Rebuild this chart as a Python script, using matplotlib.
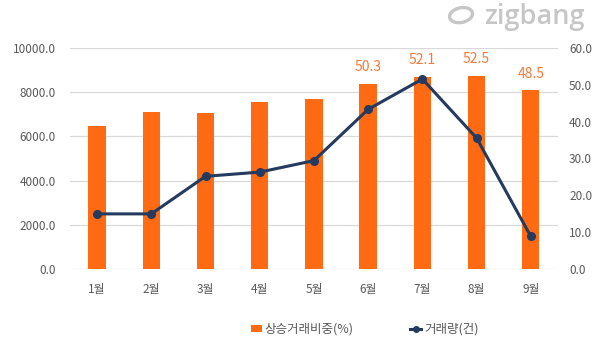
import matplotlib
matplotlib.use("Agg")
import matplotlib.pyplot as plt
from matplotlib.lines import Line2D
from matplotlib.patches import Patch, Ellipse

plt.rcParams["font.family"] = ["Noto Sans CJK KR", "DejaVu Sans"]

months = ["1월", "2월", "3월", "4월", "5월", "6월", "7월", "8월", "9월"]
rise_share = [38.7, 42.7, 42.2, 45.2, 46.0, 50.3, 52.1, 52.5, 48.5]   # 상승거래비중(%)
volume = [2490, 2490, 4190, 4380, 4900, 7220, 8590, 5920, 1470]      # 거래량(건)
labelled = [False, False, False, False, False, True, True, True, True]

left_ticks = [0, 2000, 4000, 6000, 8000, 10000]
right_ticks = [0, 10, 20, 30, 40, 50, 60]

ORANGE = "#ff6a13"
LABEL_ORANGE = "#f47a3c"
NAVY = "#243a5e"
TICK = "#595959"
GRID = "#d9d9d9"
LOGO = "#c6c6c6"

fig = plt.figure(figsize=(5.98, 3.52), dpi=100)
ax = fig.add_axes([0.117, 0.236, 0.816, 0.628])
x = list(range(len(months)))

# host axis: left ticks + grid
ax.set_ylim(0, 10000)
ax.set_yticks(left_ticks)
ax.set_yticklabels([f"{v:.1f}" for v in left_ticks])
ax.grid(axis="y", color=GRID, linewidth=0.9)
ax.set_axisbelow(True)
ax.set_xlim(-0.5, len(months) - 0.5)
ax.set_xticks(x)
ax.set_xticklabels(months)

# bars on right axis
ax_bar = ax.twinx()
bars = ax_bar.bar(x, rise_share, width=0.32, color=ORANGE, zorder=2)
ax_bar.set_ylim(0, 60)
ax_bar.set_yticks(right_ticks)
ax_bar.set_yticklabels([f"{v:.1f}" for v in right_ticks])
labels = [f"{v:.1f}" if show else "" for v, show in zip(rise_share, labelled)]
ax_bar.bar_label(bars, labels=labels, padding=7, color=LABEL_ORANGE, fontsize=10)

# line on left scale, drawn on top
ax_line = ax.twinx()
ax_line.set_ylim(0, 10000)
ax_line.set_yticks([])
ax_line.plot(x, volume, color=NAVY, linewidth=2.2, marker="o", markersize=5.5)

for a in (ax, ax_bar, ax_line):
    for s in a.spines.values():
        s.set_visible(False)
    a.tick_params(length=0, colors=TICK, labelsize=8.5)
ax.tick_params(axis="y", pad=10)
ax.tick_params(axis="x", pad=10)
ax_bar.tick_params(axis="y", pad=8)

handles = [
    Patch(facecolor=ORANGE, edgecolor="none"),
    Line2D([0], [0], color=NAVY, linewidth=2.2, marker="o", markersize=4),
]
fig.legend(handles, ["상승거래비중(%)", "거래량(건)"], loc="center",
           bbox_to_anchor=(0.61, 0.065), ncol=2, frameon=False,
           fontsize=9, handlelength=0.9, handleheight=0.5, handletextpad=0.2,
           columnspacing=4.5, labelcolor=TICK)

# watermark logo
fig.text(0.977, 0.952, "zigbang", ha="right", va="center", fontsize=19.5,
         fontweight="semibold", color=LOGO, family=["Open Sans", "DejaVu Sans"])
fig.patches.append(Ellipse((0.771, 0.957), 0.036, 0.045, angle=-30,
                           transform=fig.transFigure, facecolor="none",
                           edgecolor=LOGO, linewidth=2.4))

fig.savefig("out.png", dpi=100)
